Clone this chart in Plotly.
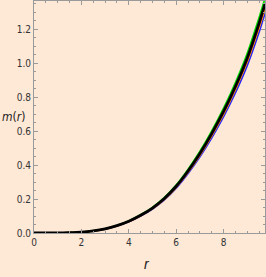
import plotly.graph_objects as go

r_vals = [0, 0.5, 1, 1.5, 2, 2.5, 3, 3.5, 4, 4.5, 5, 5.5, 6, 6.5, 7, 7.5, 8, 8.5, 9, 9.5, 9.75]

m_black  = [0, 0.0001, 0.0005, 0.002, 0.005, 0.012, 0.024, 0.043, 0.069, 0.104, 0.147, 0.203, 0.275, 0.365, 0.468, 0.585, 0.715, 0.862, 1.030, 1.235, 1.350]
m_green  = [0, 0.0001, 0.0005, 0.002, 0.005, 0.0123, 0.0246, 0.0441, 0.0707, 0.1066, 0.1507, 0.2081, 0.2819, 0.3741, 0.4797, 0.5996, 0.7329, 0.8836, 1.0558, 1.2659, 1.380]
m_red    = [0, 0.0001, 0.0005, 0.002, 0.005, 0.0119, 0.0238, 0.0426, 0.0683, 0.103, 0.1455, 0.201, 0.2723, 0.3614, 0.4633, 0.5792, 0.7079, 0.8534, 1.0197, 1.2227, 1.3365]
m_orange = [0, 0.0001, 0.0005, 0.002, 0.0049, 0.0117, 0.0235, 0.0421, 0.0675, 0.1017, 0.1438, 0.1985, 0.269, 0.357, 0.4577, 0.5721, 0.6993, 0.843, 1.0073, 1.2078, 1.3203]
m_blue   = [0, 0.0001, 0.0005, 0.0019, 0.0048, 0.0115, 0.023, 0.0412, 0.0661, 0.0996, 0.1408, 0.1945, 0.2635, 0.3497, 0.4483, 0.5604, 0.685, 0.8258, 0.9867, 1.1831, 1.2933]

x_ticks = [0, 2, 4, 6, 8]
y_ticks = [0.0, 0.2, 0.4, 0.6, 0.8, 1.0, 1.2]

series = [
    (m_blue, "#2020ff", 1.8),
    (m_orange, "#ff9900", 1.8),
    (m_red, "#e0202a", 1.8),
    (m_green, "#00dd00", 1.8),
    (m_black, "#000000", 2.8),
]

fig = go.Figure()
for ys, col, w in series:
    fig.add_trace(go.Scatter(x=r_vals, y=ys, mode="lines",
                             line=dict(color=col, width=w, shape="spline", smoothing=0.8),
                             showlegend=False, hoverinfo="skip"))

bg = "#fee8d6"
tick_font = dict(family="Liberation Sans Narrow, Arial Narrow, DejaVu Sans Condensed, sans-serif", size=10, color="#333333")
axis_common = dict(
    showline=True, linecolor="#9a9a9a", linewidth=1, mirror="ticks",
    ticks="inside", ticklen=4, tickcolor="#9a9a9a", tickwidth=1,
    showgrid=False, zeroline=False, tickfont=tick_font,
)

fig.update_layout(
    width=266, height=277,
    margin=dict(l=34, r=1, t=1, b=44),
    paper_bgcolor=bg, plot_bgcolor=bg,
    xaxis=dict(range=[0, 9.75], tickvals=x_ticks, ticktext=[str(v) for v in x_ticks],
               minor=dict(ticks="inside", dtick=0.5, ticklen=2, tickcolor="#9a9a9a"),
               **axis_common),
    yaxis=dict(range=[0, 1.365], tickvals=y_ticks, ticktext=[f"{v:.1f}" for v in y_ticks],
               minor=dict(ticks="inside", dtick=0.05, ticklen=2, tickcolor="#9a9a9a"),
               **axis_common),
    annotations=[
        dict(text="<i>m</i>(<i>r</i>)", xref="paper", yref="paper", x=-0.148, y=0.50,
             xanchor="left", yanchor="middle", showarrow=False,
             font=dict(family="Liberation Sans Narrow, Arial Narrow, DejaVu Sans Condensed, sans-serif", size=12, color="#222222")),
        dict(text="<i>r</i>", xref="paper", yref="paper", x=0.49, y=-0.135,
             xanchor="center", yanchor="middle", showarrow=False,
             font=dict(family="Liberation Sans, Arial, sans-serif", size=14, color="#222222")),
    ],
)

fig.write_html("out.html", config={"displayModeBar": False},
               post_script="document.body.style.margin='0';document.body.style.padding='0';document.body.style.background='" + bg + "';")
